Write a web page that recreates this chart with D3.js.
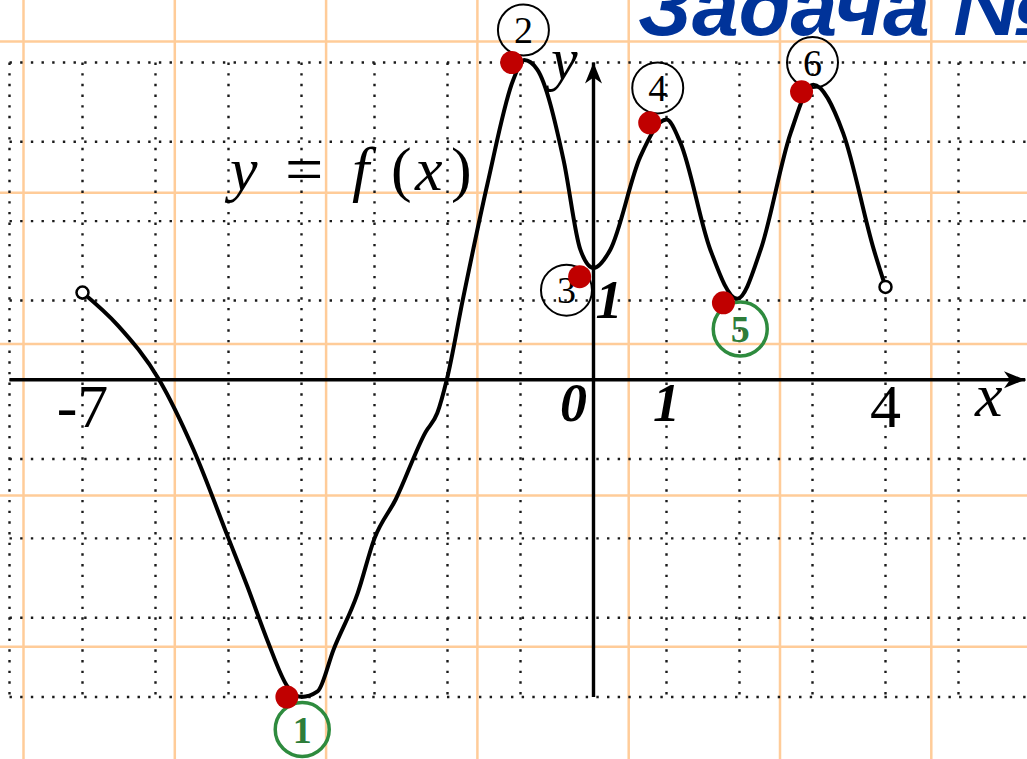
<!DOCTYPE html>
<html lang="ru">
<head>
<meta charset="UTF-8"/>
<title>y = f(x)</title>
<script src="https://d3js.org/d3.v7.min.js"></script>
<style>
    body { margin: 0; background-color: white; }
    svg  { display: block; }
</style>
</head>
<body>
<script>
	var w = 1027;
	var h = 759;

	// graph of f (x, y in grid units)
	var curveX = [-7, -6.51, -5.95, -5.48, -5.0, -4.74, -4.47, -4.19, -4.0, -3.78, -3.56, -3.23, -3.0, -2.71, -2.30, -2.14, -2.01, -1.79, -1.45, -1.10, -0.95, -0.77, -0.41, -0.18, 0.0, 0.23, 0.64, 1.0, 1.19, 1.60, 1.97, 2.29, 2.70, 3.01, 3.42, 3.84, 4.0];
	var curveY = [1.1, 0.68, 0, -0.88, -2.0, -2.61, -3.28, -3.87, -4.0, -3.93, -3.40, -2.69, -2.0, -1.51, -0.66, -0.42, 0, 1.01, 2.48, 3.78, 4.03, 3.91, 2.77, 1.64, 1.41, 1.64, 2.81, 3.28, 2.99, 1.64, 1.02, 1.64, 3.11, 3.72, 3.11, 1.64, 1.17];

	// open ends
	var holeX = [-7, 4];
	var holeY = [1.1, 1.17];

	// red marked points and their numbered labels
	var redX = [-4.2, -1.12, -0.19, 0.77, 1.78, 2.85];
	var redY = [-4.0, 4.0, 1.3, 3.24, 0.97, 3.63];
	var labelText = ["1", "2", "3", "4", "5", "6"];
	var labelX = [-3.99, -0.96, -0.37, 0.88, 2.01, 3.0];
	var labelY = [-4.41, 4.41, 1.13, 3.68, 0.64, 4.0];
	var labelGreen = [true, false, false, false, true, false];

	// axis numbers
	var xTickVals = [-7, 0, 1, 4];
	var xTickText = ["-7", "0", "1", "4"];
	var yTickVals = [1];
	var yTickText = ["1"];

	var svg = d3.select("body")
				.append("svg")
				.attr("width", w)
				.attr("height", h);

	svg.append("rect").attr("width", w).attr("height", h).attr("fill", "white");

	var xScale = d3.scaleLinear().domain([-8, 5]).range([9.5, 958.5]);
	var yScale = d3.scaleLinear().domain([-4, 4]).range([697, 62.5]);

	// notebook paper lines
	var paper = svg.append("g")
				.attr("stroke", "#ffcc99")
				.attr("stroke-width", 2.5);
	paper.selectAll("line.v")
		.data(d3.range(23.5, w, 151.3))
		.enter().append("line")
		.attr("x1", d => d).attr("x2", d => d)
		.attr("y1", 0).attr("y2", h);
	paper.selectAll("line.h")
		.data(d3.range(41.5, h, 151.3))
		.enter().append("line")
		.attr("y1", d => d).attr("y2", d => d)
		.attr("x1", 0).attr("x2", w);

	// dotted grid
	var grid = svg.append("g")
				.attr("stroke", "#1a1a1a")
				.attr("stroke-width", 2.4)
				.attr("stroke-dasharray", "2.4 8.27");
	grid.selectAll("line.gv")
		.data(d3.range(-8, 6))
		.enter().append("line")
		.attr("x1", d => xScale(d)).attr("x2", d => xScale(d))
		.attr("y1", yScale(4)).attr("y2", yScale(-4));
	grid.selectAll("line.gh")
		.data(d3.range(-4, 5))
		.enter().append("line")
		.attr("y1", d => yScale(d)).attr("y2", d => yScale(d))
		.attr("x1", xScale(-8)).attr("x2", w);

	// title
	svg.append("text")
		.attr("x", 638).attr("y", 35)
		.attr("font-family", "Liberation Sans, Arial, sans-serif")
		.attr("font-weight", "bold")
		.attr("font-style", "italic")
		.attr("font-size", 84)
		.attr("fill", "#003399")
		.text("Задача №");

	// axes with arrows
	var defs = svg.append("defs");
	defs.append("marker")
		.attr("id", "arrow")
		.attr("markerUnits", "userSpaceOnUse")
		.attr("viewBox", "-22 -9 24 18")
		.attr("markerWidth", 24).attr("markerHeight", 18)
		.attr("refX", 0).attr("refY", 0)
		.attr("orient", "auto")
		.append("path")
		.attr("d", "M0,0 L-21,-8.5 L-15,0 L-21,8.5 Z")
		.attr("fill", "black");

	svg.append("line")
		.attr("x1", xScale(-8)).attr("x2", 1025)
		.attr("y1", yScale(0)).attr("y2", yScale(0))
		.attr("stroke", "black").attr("stroke-width", 3.4)
		.attr("marker-end", "url(#arrow)");
	svg.append("line")
		.attr("x1", xScale(0)).attr("x2", xScale(0))
		.attr("y1", yScale(-4)).attr("y2", yScale(4))
		.attr("stroke", "black").attr("stroke-width", 3.4)
		.attr("marker-end", "url(#arrow)");

	// axis names
	svg.append("text")
		.attr("x", 975).attr("y", 416)
		.attr("font-family", "Liberation Serif, Times New Roman, serif")
		.attr("font-style", "italic").attr("font-size", 62)
		.text("x");
	svg.append("text")
		.attr("x", 551).attr("y", 79)
		.attr("font-family", "Liberation Serif, Times New Roman, serif")
		.attr("font-style", "italic").attr("font-size", 60)
		.text("y");

	// axis numbers
	svg.selectAll("text.xt")
		.data(xTickVals)
		.enter().append("text")
		.attr("class", "xt")
		.attr("x", (d, i) => xScale(d) + (d === 0 ? -20 : 0))
		.attr("y", (d, i) => (d === 0 || d === 1) ? 421 : 427)
		.attr("text-anchor", "middle")
		.attr("font-family", "Liberation Serif, Times New Roman, serif")
		.attr("font-size", (d, i) => (d === 0 || d === 1) ? 54 : 62)
		.attr("font-weight", (d, i) => (d === 0 || d === 1) ? "bold" : "normal")
		.attr("font-style", (d, i) => (d === 0 || d === 1) ? "italic" : "normal")
		.text((d, i) => xTickText[i]);

	svg.selectAll("text.yt")
		.data(yTickVals)
		.enter().append("text")
		.attr("class", "yt")
		.attr("x", d => xScale(0) + 2)
		.attr("y", d => yScale(d) + 18)
		.attr("font-family", "Liberation Serif, Times New Roman, serif")
		.attr("font-size", 54)
		.attr("font-weight", "bold")
		.attr("font-style", "italic")
		.text((d, i) => yTickText[i]);

	// formula y = f(x)
	var formula = [["y", 230, 62], ["=", 285, 68], ["f", 352, 62], ["(", 391, 62], ["x", 415, 62], [")", 451, 62]];
	svg.append("g")
		.attr("font-family", "Liberation Serif, Times New Roman, serif")
		.selectAll("text")
		.data(formula)
		.enter().append("text")
		.attr("x", d => d[1])
		.attr("y", d => d[0] === "=" ? 192 : 190)
		.attr("font-size", d => d[2])
		.attr("font-style", d => (d[0] === "=" || d[0] === "(" || d[0] === ")") ? "normal" : "italic")
		.text(d => d[0]);

	// the graph
	var pts = curveX.map((x, i) => [x, curveY[i]]);
	var line = d3.line()
				.x(d => xScale(d[0]))
				.y(d => yScale(d[1]))
				.curve(d3.curveMonotoneX);
	svg.append("path")
		.datum(pts)
		.attr("d", line)
		.attr("fill", "none")
		.attr("stroke", "black")
		.attr("stroke-width", 4)
		.attr("stroke-linejoin", "round");

	svg.selectAll("circle.hole")
		.data(holeX)
		.enter().append("circle")
		.attr("class", "hole")
		.attr("cx", d => xScale(d))
		.attr("cy", (d, i) => yScale(holeY[i]))
		.attr("r", 6)
		.attr("fill", "white")
		.attr("stroke", "black")
		.attr("stroke-width", 2.5);

	// numbered labels
	var labels = svg.selectAll("g.lab")
				.data(labelText)
				.enter().append("g")
				.attr("class", "lab")
				.attr("transform", (d, i) => "translate(" + xScale(labelX[i]) + "," + yScale(labelY[i]) + ")");
	labels.append("circle")
		.attr("r", (d, i) => labelGreen[i] ? 27 : 25.5)
		.attr("fill", "none")
		.attr("stroke", (d, i) => labelGreen[i] ? "#2e8b3e" : "black")
		.attr("stroke-width", (d, i) => labelGreen[i] ? 3.5 : 2);
	labels.append("text")
		.attr("text-anchor", "middle")
		.attr("y", 13)
		.attr("font-family", "Liberation Serif, Times New Roman, serif")
		.attr("font-size", 38)
		.attr("font-weight", (d, i) => labelGreen[i] ? "bold" : "normal")
		.attr("fill", (d, i) => labelGreen[i] ? "#2e7d3a" : "black")
		.text(d => d);

	// red points
	svg.selectAll("circle.red")
		.data(redX)
		.enter().append("circle")
		.attr("class", "red")
		.attr("cx", d => xScale(d))
		.attr("cy", (d, i) => yScale(redY[i]))
		.attr("r", 11.5)
		.attr("fill", "#c00000");
</script>
</body>
</html>
